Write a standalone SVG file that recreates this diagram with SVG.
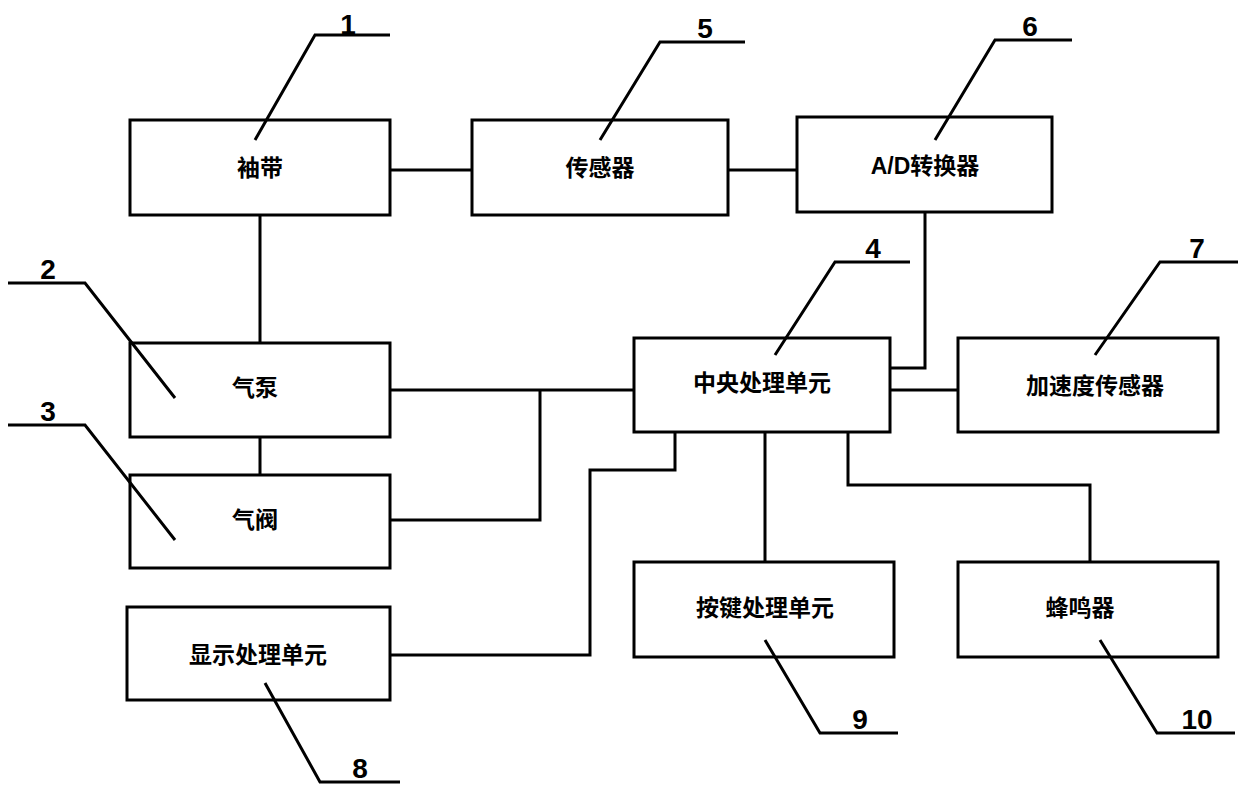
<svg xmlns="http://www.w3.org/2000/svg" width="1248" height="801" viewBox="0 0 1248 801">
<style>
.b{fill:#fff;stroke:#000;stroke-width:3}
.l{fill:none;stroke:#000;stroke-width:3}
.t{font-family:"Liberation Sans","Noto Sans CJK SC",sans-serif;font-size:23px;font-weight:bold;text-anchor:middle;dominant-baseline:central}
.n{font-family:"Liberation Sans",sans-serif;font-size:28px;font-weight:bold;text-anchor:middle}
</style>
<rect width="1248" height="801" fill="#fff"/>
<g id="connectors" class="l">
<path d="M390 170H472M728 170H797M260 215V343M260 437V475M390 390H634M390 520H540V390M925 212V368H890M890 390H958M390 655H590V470H675V432M765 432V562M848 432V485H1090V562"/>
</g>
<g id="n1"><rect class="b" x="130" y="120" width="260" height="95"/><text class="t" x="260" y="168">袖带</text></g>
<g id="n5"><rect class="b" x="472" y="120" width="256" height="95"/><text class="t" x="600" y="168">传感器</text></g>
<g id="n6"><rect class="b" x="797" y="117" width="255" height="95"/><text class="t" x="925" y="166">A/D转换器</text></g>
<g id="n2"><rect class="b" x="130" y="343" width="260" height="94"/><text class="t" x="255" y="388">气泵</text></g>
<g id="n3"><rect class="b" x="130" y="475" width="260" height="93"/><text class="t" x="255" y="520">气阀</text></g>
<g id="n8"><rect class="b" x="127" y="607" width="263" height="93"/><text class="t" x="258" y="655">显示处理单元</text></g>
<g id="n4"><rect class="b" x="634" y="338" width="256" height="94"/><text class="t" x="762" y="383">中央处理单元</text></g>
<g id="n7"><rect class="b" x="958" y="338" width="260" height="94"/><text class="t" x="1095" y="386">加速度传感器</text></g>
<g id="n9"><rect class="b" x="634" y="562" width="260" height="95"/><text class="t" x="765" y="608">按键处理单元</text></g>
<g id="n10"><rect class="b" x="958" y="562" width="260" height="95"/><text class="t" x="1080" y="608">蜂鸣器</text></g>
<g id="leaders" class="l">
<path d="M255 140L315 35H390M600 140L660 42H745M935 140L995 40H1072M775 355L835 262H910M1095 355L1160 262H1238M175 398L85 283H8M175 540L85 425H8M265 683L320 782H400M765 640L820 733H898M1100 640L1157 733H1235"/>
</g>
<g id="labels">
<text class="n" x="348" y="34">1</text><text class="n" x="705" y="38">5</text><text class="n" x="1030" y="36">6</text>
<text class="n" x="873" y="258">4</text><text class="n" x="1197" y="258">7</text>
<text class="n" x="48" y="279">2</text><text class="n" x="48" y="421">3</text>
<text class="n" x="360" y="778">8</text><text class="n" x="860" y="729">9</text><text class="n" x="1197" y="729">10</text>
</g>
</svg>
